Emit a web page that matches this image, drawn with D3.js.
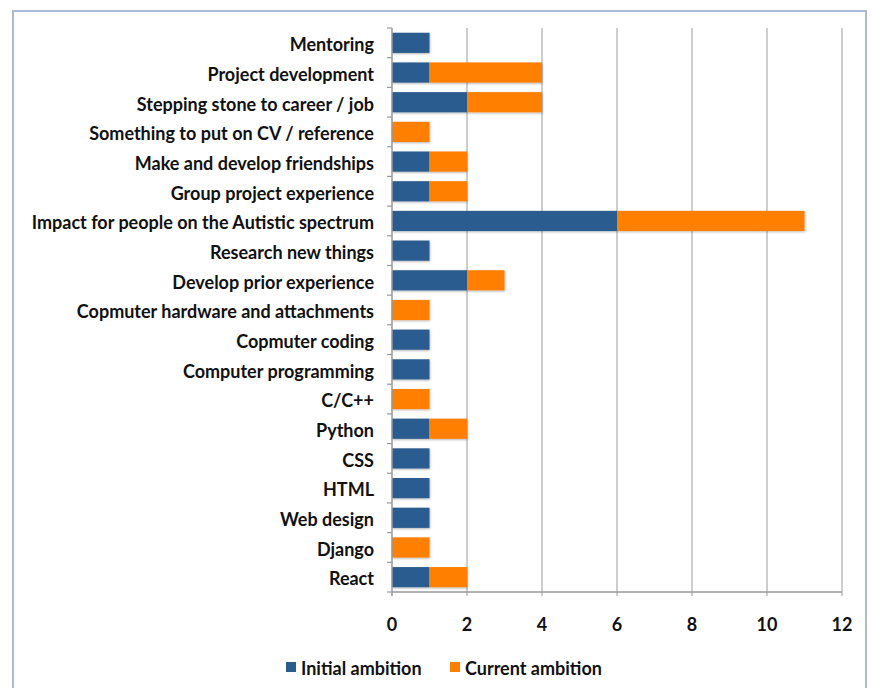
<!DOCTYPE html>
<html>
<head>
<meta charset="utf-8">
<script src="https://cdn.jsdelivr.net/npm/d3@7"></script>
<style>
  html, body { margin: 0; padding: 0; background: #fff; }
  svg { display: block; }
  text { font-family: Lato, "Open Sans", sans-serif; font-weight: bold; fill: #111; }
</style>
</head>
<body>
<svg id="chart" width="872" height="688"></svg>
<script>
// Reasons for taking part, split by initial and current ambition
const categories = [
  "Mentoring",
  "Project development",
  "Stepping stone to career / job",
  "Something to put on CV / reference",
  "Make and develop friendships",
  "Group project experience",
  "Impact for people on the Autistic spectrum",
  "Research new things",
  "Develop prior experience",
  "Copmuter hardware and attachments",
  "Copmuter coding",
  "Computer programming",
  "C/C++",
  "Python",
  "CSS",
  "HTML",
  "Web design",
  "Django",
  "React"
];
const initialAmbition = [1, 1, 2, 0, 1, 1, 6, 1, 2, 0, 1, 1, 0, 1, 1, 1, 1, 0, 1];
const currentAmbition = [0, 3, 2, 1, 1, 1, 5, 0, 1, 1, 0, 0, 1, 1, 0, 0, 0, 1, 1];
const seriesNames = ["Initial ambition", "Current ambition"];
const seriesColors = ["#2b5b8f", "#ff7f00"];
const xTicks = [0, 2, 4, 6, 8, 10, 12];

const svg = d3.select("#chart");
const fontSize = 18;

// Outer frame
svg.append("rect")
  .attr("x", 13).attr("y", 11)
  .attr("width", 853).attr("height", 690)
  .attr("fill", "#fff")
  .attr("stroke", "#a9bbd5").attr("stroke-width", 2);

const plot = { left: 392, right: 842, top: 28, bottom: 592 };

const x = d3.scaleLinear().domain([0, 12]).range([plot.left, plot.right]);
const y = d3.scaleBand().domain(categories).range([plot.top, plot.bottom]).paddingInner(0.32).paddingOuter(0.16);

// Vertical gridlines
svg.append("g").selectAll("line")
  .data(xTicks.slice(1))
  .join("line")
  .attr("x1", d => x(d)).attr("x2", d => x(d))
  .attr("y1", plot.top).attr("y2", plot.bottom + 4)
  .attr("stroke", "#bdbdbd").attr("stroke-width", 1.5);

// Stacked data
const rows = categories.map((c, i) => ({ cat: c, v: [initialAmbition[i], currentAmbition[i]] }));
const stack = d3.stack().keys([0, 1]).value((d, k) => d.v[k]);
const layers = stack(rows);

const defs = svg.append("defs");
const f = defs.append("filter").attr("id", "shadow").attr("x", "-5%").attr("y", "-20%").attr("width", "110%").attr("height", "150%");
f.append("feDropShadow").attr("dx", 0.5).attr("dy", 1).attr("stdDeviation", 0.8).attr("flood-color", "#000").attr("flood-opacity", 0.3);

svg.append("g").attr("filter", "url(#shadow)")
  .selectAll("g")
  .data(layers)
  .join("g")
  .attr("fill", (d, i) => seriesColors[i])
  .selectAll("rect")
  .data(d => d.filter(s => s[1] > s[0]))
  .join("rect")
  .attr("x", d => x(d[0]))
  .attr("width", d => x(d[1]) - x(d[0]))
  .attr("y", d => y(d.data.cat))
  .attr("height", y.bandwidth());

// Category axis
const yAxis = svg.append("g").attr("transform", `translate(${plot.left},0)`);
yAxis.append("line")
  .attr("x1", 0).attr("x2", 0).attr("y1", plot.top).attr("y2", plot.bottom + 4)
  .attr("stroke", "#999").attr("stroke-width", 1.5);
yAxis.selectAll("line.tick")
  .data(d3.range(categories.length + 1))
  .join("line").attr("class", "tick")
  .attr("x1", -5).attr("x2", 0)
  .attr("y1", i => plot.top + i * (plot.bottom - plot.top) / categories.length)
  .attr("y2", i => plot.top + i * (plot.bottom - plot.top) / categories.length)
  .attr("stroke", "#999").attr("stroke-width", 1.2);
yAxis.selectAll("text")
  .data(categories)
  .join("text")
  .attr("x", -18)
  .attr("y", d => y(d) + y.bandwidth() / 2 + 2)
  .attr("dy", "0.35em")
  .attr("text-anchor", "end")
  .attr("font-size", fontSize)
  .text(d => d);

// Value axis
const xAxis = svg.append("g");
xAxis.append("line")
  .attr("x1", plot.left).attr("x2", plot.right)
  .attr("y1", plot.bottom).attr("y2", plot.bottom)
  .attr("stroke", "#999").attr("stroke-width", 1.5);
xAxis.selectAll("text")
  .data(xTicks)
  .join("text")
  .attr("x", d => x(d))
  .attr("y", 625)
  .attr("dy", "0.35em")
  .attr("text-anchor", "middle")
  .attr("font-size", fontSize)
  .text(d => d);

// Legend
const legendX = [286, 450];
const legend = svg.append("g");
seriesNames.forEach((name, i) => {
  legend.append("rect")
    .attr("x", legendX[i]).attr("y", 662)
    .attr("width", 10).attr("height", 10)
    .attr("fill", seriesColors[i]);
  legend.append("text")
    .attr("x", legendX[i] + 15).attr("y", 669)
    .attr("dy", "0.35em")
    .attr("font-size", fontSize)
    .text(name);
});
</script>
</body>
</html>
